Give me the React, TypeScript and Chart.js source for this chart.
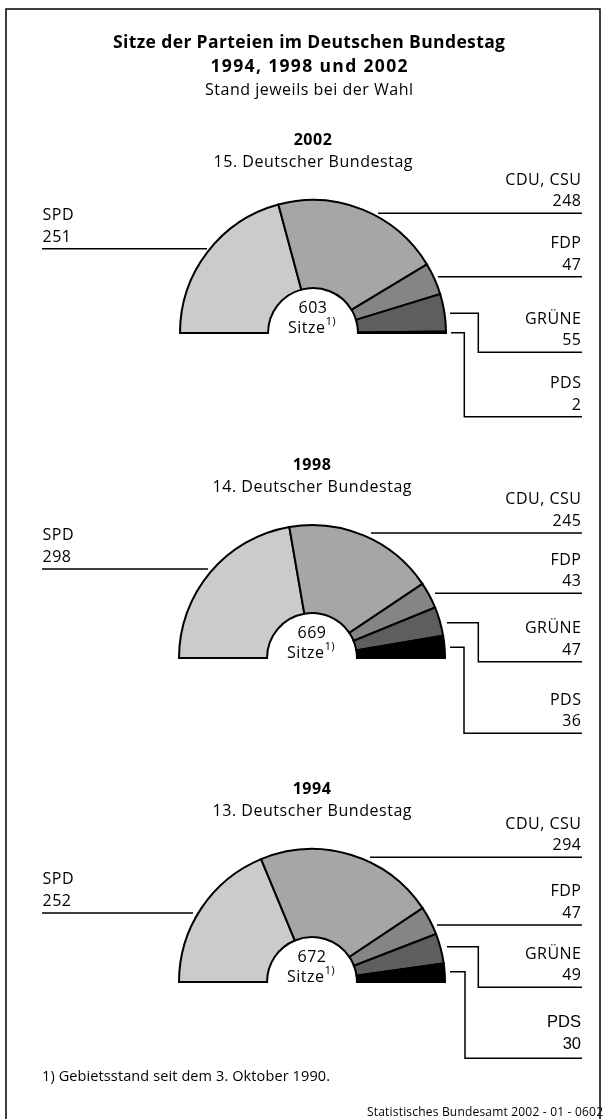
import React, { useEffect, useRef } from "react";
import { Chart, registerables } from "chart.js";
Chart.register(...registerables);

// ---------- data ----------
const parties = ["SPD", "CDU, CSU", "FDP", "GRÜNE", "PDS"];
const seats2002 = [251, 248, 47, 55, 2];
const seats1998 = [298, 245, 43, 47, 36];
const seats1994 = [252, 294, 47, 49, 30];
const electionYears = ["2002", "1998", "1994"];
const parliamentNames = ["15. Deutscher Bundestag", "14. Deutscher Bundestag", "13. Deutscher Bundestag"];
const partyColors = ["#cbcbcb", "#a6a6a6", "#858585", "#5e5e5e", "#000000"];

const titleLines = ["Sitze der Parteien im Deutschen Bundestag", "1994, 1998 und 2002"];
const subtitle = "Stand jeweils bei der Wahl";
const centerWord = "Sitze";
const footnoteMark = "1)";
const footnote = "1) Gebietsstand seit dem 3. Oktober 1990.";
const source = "Statistisches Bundesamt 2002 - 01 - 0602";

const seatsByYear = [seats2002, seats1998, seats1994];

// ---------- layout ----------
const FONT = "'Open Sans', sans-serif";
const FS = 16;
const LS = 0.5;
const CW = 272;
const CH = 139;
const RADIUS = 133;

const panels = [
  {
    cx: 313, cy: 333,
    spd: { y: 248.7, x2: 207 },
    cdu: { y: 213.3, x1: 378 },
    fdp: { y: 276.7, x1: 438 },
    gru: { x0: 450, y0: 313.3, xe: 478.3, y1: 352.3 },
    pds: { x0: 451, y0: 332.7, xe: 464.3, y1: 416.7 },
  },
  {
    cx: 312, cy: 658,
    spd: { y: 569, x2: 208 },
    cdu: { y: 533, x1: 371 },
    fdp: { y: 593.3, x1: 435 },
    gru: { x0: 447, y0: 622.7, xe: 478.3, y1: 661.7 },
    pds: { x0: 450, y0: 647.3, xe: 464, y1: 733.3 },
  },
  {
    cx: 312, cy: 982,
    spd: { y: 913, x2: 193 },
    cdu: { y: 857.3, x1: 370 },
    fdp: { y: 925, x1: 437 },
    gru: { x0: 447, y0: 946.7, xe: 478.3, y1: 987.3 },
    pds: { x0: 450, y0: 971.7, xe: 465, y1: 1058.3 },
  },
];

function HalfDonut({ seats, cx, cy }: { seats: number[]; cx: number; cy: number }) {
  const ref = useRef<HTMLCanvasElement>(null);
  useEffect(() => {
    const chart = new Chart(ref.current as HTMLCanvasElement, {
      type: "doughnut",
      data: {
        labels: parties,
        datasets: [
          {
            data: seats,
            backgroundColor: partyColors,
            borderColor: "#000000",
            borderWidth: 2,
            borderAlign: "center",
            borderJoinStyle: "miter",
          } as any,
        ],
      },
      options: {
        responsive: false,
        maintainAspectRatio: false,
        animation: false,
        rotation: -90,
        circumference: 180,
        radius: RADIUS,
        cutout: "33.8%",
        layout: { padding: 0 },
        events: [],
        plugins: {
          legend: { display: false },
          tooltip: { enabled: false },
          title: { display: false },
        },
      } as any,
    });
    return () => chart.destroy();
  }, [seats]);
  // doughnut centre inside the canvas: x = CW/2, y = CH/2 + RADIUS/2
  return (
    <canvas
      ref={ref}
      width={CW}
      height={CH}
      style={{ position: "absolute", left: cx - CW / 2, top: cy - (CH / 2 + RADIUS / 2), width: CW, height: CH }}
    />
  );
}

function RightLabel({ name, value, lineY, arial }: { name: string; value: number; lineY: number; arial?: boolean }) {
  if (arial) {
    return (
      <g fontFamily="'Liberation Sans', Arial, sans-serif" fontSize={16.5} textAnchor="end">
        <text x={581} y={lineY - 31}>{name}</text>
        <text x={581} y={lineY - 9}>{value}</text>
      </g>
    );
  }
  return (
    <g fontSize={FS} textAnchor="end" letterSpacing={LS}>
      <text x={581.5} y={lineY - 28.6}>{name}</text>
      <text x={581.5} y={lineY - 7}>{value}</text>
    </g>
  );
}

export default function App() {
  return (
    <div style={{ position: "absolute", left: 0, top: 0, width: 605, height: 1119, overflow: "hidden", background: "#fff" }}>
      {panels.map((p, i) => (
        <HalfDonut key={i} seats={seatsByYear[i]} cx={p.cx} cy={p.cy} />
      ))}
      <svg
        width={605}
        height={1119}
        style={{ position: "absolute", left: 0, top: 0, pointerEvents: "none" }}
        fontFamily={FONT}
        fill="#000"
      >
        <rect x={6} y={9} width={594} height={1200} fill="none" stroke="#000" strokeWidth={1.5} />
        <text x={309} y={47.7} fontSize={17.5} fontWeight="bold" textAnchor="middle" textLength={392} lengthAdjust="spacing">
          {titleLines[0]}
        </text>
        <text x={309} y={72.3} fontSize={17.5} fontWeight="bold" textAnchor="middle" textLength={197} lengthAdjust="spacing">
          {titleLines[1]}
        </text>
        <text x={309} y={94.5} fontSize={FS} textAnchor="middle" textLength={208} lengthAdjust="spacing">
          {subtitle}
        </text>

        {panels.map((p, i) => {
          const s = seatsByYear[i];
          const total = s.reduce((a, b) => a + b, 0);
          const line = "#000";
          return (
            <g key={i}>
              <text x={p.cx} y={p.cy - 188} fontSize={FS} fontWeight="bold" textAnchor="middle" letterSpacing={LS}>
                {electionYears[i]}
              </text>
              <text x={p.cx} y={p.cy - 166.3} fontSize={FS} textAnchor="middle" textLength={199} lengthAdjust="spacing">
                {parliamentNames[i]}
              </text>
              <text x={p.cx} y={p.cy - 19.7} fontSize={FS} textAnchor="middle" letterSpacing={LS}>
                {total}
              </text>
              <text x={p.cx - 1} y={p.cy} fontSize={FS} textAnchor="middle" letterSpacing={LS}>
                {centerWord}
                <tspan fontSize={11.5} dy={-8} letterSpacing={0.3}>{footnoteMark}</tspan>
              </text>

              {/* SPD */}
              <g fontSize={FS} letterSpacing={LS}>
                <text x={42.5} y={p.spd.y - 28.6}>{parties[0]}</text>
                <text x={42.5} y={p.spd.y - 7}>{s[0]}</text>
              </g>
              <line x1={42} y1={p.spd.y} x2={p.spd.x2} y2={p.spd.y} stroke={line} strokeWidth={1.5} />

              {/* CDU */}
              <RightLabel name={parties[1]} value={s[1]} lineY={p.cdu.y} />
              <line x1={p.cdu.x1} y1={p.cdu.y} x2={582} y2={p.cdu.y} stroke={line} strokeWidth={1.5} />

              {/* FDP */}
              <RightLabel name={parties[2]} value={s[2]} lineY={p.fdp.y} />
              <line x1={p.fdp.x1} y1={p.fdp.y} x2={582} y2={p.fdp.y} stroke={line} strokeWidth={1.5} />

              {/* GRÜNE */}
              <RightLabel name={parties[3]} value={s[3]} lineY={p.gru.y1} />
              <polyline
                points={`${p.gru.x0},${p.gru.y0} ${p.gru.xe},${p.gru.y0} ${p.gru.xe},${p.gru.y1} 582,${p.gru.y1}`}
                fill="none"
                stroke={line}
                strokeWidth={1.5}
              />

              {/* PDS */}
              <RightLabel name={parties[4]} value={s[4]} lineY={p.pds.y1} arial={i === 2} />
              <polyline
                points={`${p.pds.x0},${p.pds.y0} ${p.pds.xe},${p.pds.y0} ${p.pds.xe},${p.pds.y1} 582,${p.pds.y1}`}
                fill="none"
                stroke={line}
                strokeWidth={1.5}
              />
            </g>
          );
        })}

        <text x={42} y={1081} fontSize={14.5} textLength={288} lengthAdjust="spacing">
          {footnote}
        </text>
        <text x={367} y={1115.5} fontSize={12} textLength={236} lengthAdjust="spacing">
          {source}
        </text>
      </svg>
    </div>
  );
}
